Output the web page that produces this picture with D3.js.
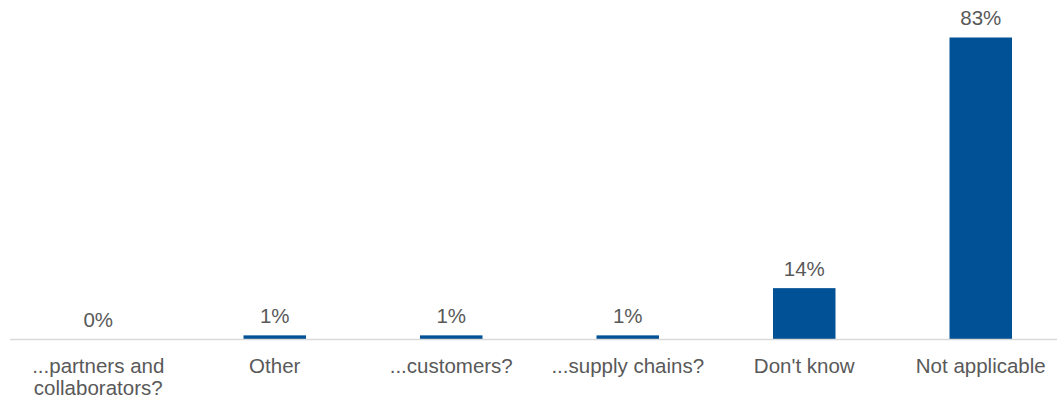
<!DOCTYPE html>
<html>
<head>
<meta charset="utf-8">
<script src="https://cdn.jsdelivr.net/npm/d3@7"></script>
<style>
  html, body { margin: 0; padding: 0; background: #ffffff; }
  svg { display: block; }
  text { font-family: "Liberation Sans", Arial, sans-serif; fill: #595959; }
</style>
</head>
<body>
<svg id="chart" width="1057" height="398"></svg>
<script>
// Survey answers and their shares (percent)
const categories = [
  ["...partners and", "collaborators?"],
  ["Other"],
  ["...customers?"],
  ["...supply chains?"],
  ["Don't know"],
  ["Not applicable"]
];
const values = [0, 1, 1, 1, 14, 83];
const valueLabels = ["0%", "1%", "1%", "1%", "14%", "83%"];

const W = 1057, H = 398;
const baseline = 339;
const svg = d3.select("#chart");

const keys = categories.map((c, i) => i);

const x = d3.scaleBand()
  .domain(keys)
  .range([10, 1069])
  .paddingInner(0.646)
  .paddingOuter(0.323);

const y = d3.scaleLinear()
  .domain([0, 83])
  .range([baseline, 37.5]);

// bars
svg.append("g")
  .selectAll("rect")
  .data(values)
  .join("rect")
  .attr("x", (d, i) => x(i))
  .attr("width", x.bandwidth())
  .attr("y", d => y(d))
  .attr("height", d => y(0) - y(d))
  .attr("fill", "#005196");

// category axis line
svg.append("line")
  .attr("x1", 10).attr("x2", W)
  .attr("y1", baseline + 0.5).attr("y2", baseline + 0.5)
  .attr("stroke", "#d9d9d9")
  .attr("stroke-width", 1.5);

// value labels
svg.append("g")
  .selectAll("text")
  .data(values)
  .join("text")
  .attr("x", (d, i) => x(i) + x.bandwidth() / 2)
  .attr("y", d => y(d) - 12.5)
  .attr("text-anchor", "middle")
  .style("font-size", "20.5px")
  .text((d, i) => valueLabels[i]);

// category labels (wrapped)
const cat = svg.append("g")
  .selectAll("text")
  .data(categories)
  .join("text")
  .attr("x", (d, i) => x(i) + x.bandwidth() / 2)
  .attr("y", 373)
  .attr("text-anchor", "middle")
  .style("font-size", "20.5px");

cat.selectAll("tspan")
  .data(d => d)
  .join("tspan")
  .attr("x", function () { return d3.select(this.parentNode).attr("x"); })
  .attr("dy", (d, j) => j === 0 ? 0 : 22)
  .text(d => d);
</script>
</body>
</html>
